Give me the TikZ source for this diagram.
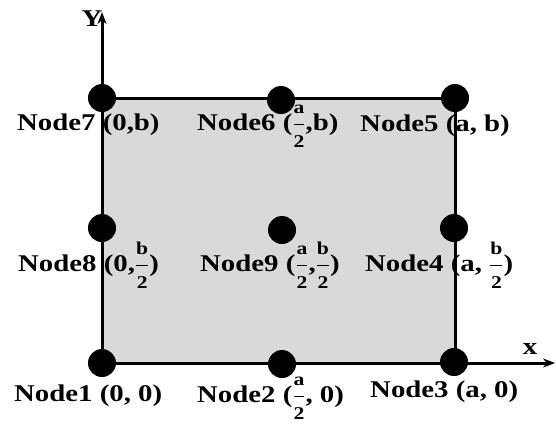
\documentclass[tikz,border=0pt]{standalone}
\usepackage{fontspec}
\setmainfont{Liberation Serif}[FakeStretch=1.2]
\usetikzlibrary{arrows.meta,backgrounds}
\definecolor{cPlate}{HTML}{D9D9D9}
\tikzset{dot/.style={circle,fill=black,inner sep=0pt,minimum size=28pt},
  lbl/.style={font=\fontsize{24}{26}\selectfont\bfseries,inner sep=0pt,anchor=base west},
  edge/.style={line width=3pt}}
\newcommand{\hf}[2]{$\displaystyle\frac{\hbox{\fontsize{18}{18}\selectfont\bfseries #1}}{\hbox{\fontsize{18}{18}\selectfont\bfseries #2}}$}

\begin{document}
\begin{tikzpicture}[x=1pt,y=-1pt]
  \useasboundingbox (0,0) rectangle (556,424);
  % the nine nodes
  \node[dot] (n1) at (102,363) {};
  \node[dot] (n2) at (282,364) {};
  \node[dot] (n3) at (454,362) {};
  \node[dot] (n4) at (454,228) {};
  \node[dot] (n5) at (455,98) {};
  \node[dot] (n6) at (281,100) {};
  \node[dot] (n7) at (102,98) {};
  \node[dot] (n8) at (102,228) {};
  \node[dot] (n9) at (282,230) {};
  \coordinate (ytip) at (102,12);
  \coordinate (xtip) at (555,363);
  % plate and axes
  \begin{scope}[on background layer]
    \draw[edge,fill=cPlate] (n1.center) rectangle (n5.center);
    \draw[edge,-{Stealth[length=12pt,width=9pt]}] (n1.center) -- (ytip);
    \draw[edge,-{Stealth[length=12pt,width=9pt]}] (n1.center) -- (xtip);
  \end{scope}
  \node[lbl,anchor=base] (ylab) at (92,26) {Y};
  \node[lbl,anchor=base] (xlab) at (530,354) {x};
  % labels
  \node[lbl] (l7) at (17,130) {Node7 (0,b)};
  \node[lbl] (l6) at (197,130) {Node6 (\hf{a}{2},b)};
  \node[lbl] (l5) at (360,131) {Node5 (a, b)};
  \node[lbl] (l8) at (18,271) {Node8 (0,\hf{b}{2})};
  \node[lbl] (l9) at (200,271) {Node9 (\hf{a}{2},\hf{b}{2})};
  \node[lbl] (l4) at (365,271) {Node4 (a, \hf{b}{2})};
  \node[lbl] (l1) at (14,401) {Node1 (0, 0)};
  \node[lbl] (l2) at (197,402) {Node2 (\hf{a}{2}, 0)};
  \node[lbl] (l3) at (370,397) {Node3 (a, 0)};
\end{tikzpicture}
\end{document}
